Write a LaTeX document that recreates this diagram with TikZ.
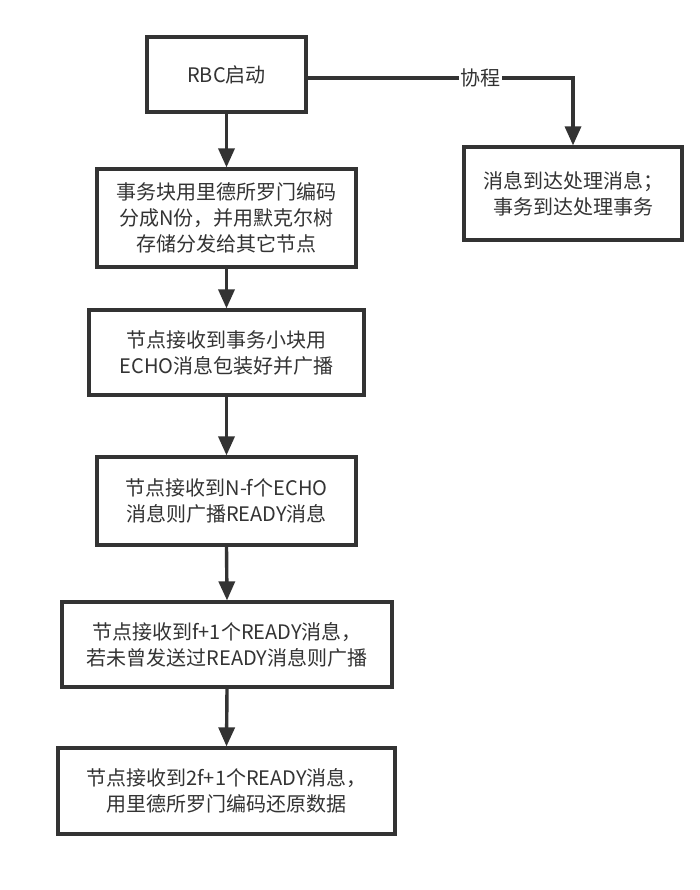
\documentclass[tikz,border=0pt]{standalone}
\usepackage{fontspec}
\setmainfont{Noto Sans CJK SC}
\usetikzlibrary{arrows.meta}
\definecolor{ink}{HTML}{333333}
\begin{document}
\begin{tikzpicture}[x=1pt,y=-1pt,
  box/.style={draw=ink,line width=3.2pt,fill=white,text=ink,align=center,inner sep=0pt,
    font=\fontsize{20}{26}\selectfont},
  conn/.style={draw=ink,line width=3.4pt,-{Triangle[length=19pt,width=16pt]}},
  lbl/.style={fill=white,text=ink,inner sep=1.5pt,font=\fontsize{20}{26}\selectfont}]
\useasboundingbox[fill=white] (0,0) rectangle (700,890);
\node[box,minimum width=159pt,minimum height=75pt] (n1) at (226.5,74.5) {RBC启动};
\node[box,minimum width=259pt,minimum height=98pt] (n2) at (226.5,218) {事务块用里德所罗门编码\\分成N份，并用默克尔树\\存储分发给其它节点};
\node[box,minimum width=275pt,minimum height=85pt] (n3) at (226.5,352.5) {节点接收到事务小块用\\ECHO消息包装好并广播};
\node[box,minimum width=259pt,minimum height=88pt] (n4) at (226.5,501) {节点接收到N-f个ECHO\\消息则广播READY消息};
\node[box,minimum width=330pt,minimum height=85pt] (n5) at (227,644.5) {节点接收到f+1个READY消息，\\若未曾发送过READY消息则广播};
\node[box,minimum width=337pt,minimum height=86pt] (n6) at (226.5,791) {节点接收到2f+1个READY消息，\\用里德所罗门编码还原数据};
\node[box,minimum width=218pt,minimum height=93pt] (r1) at (573,193.5) {消息到达处理消息；\\事务到达处理事务};
\draw[conn] (n1.south) -- (n2.north);
\draw[conn] (n2.south) -- (n3.north);
\draw[conn] (n3.south) -- (n4.north);
\draw[conn] (n4.south) -- (n5.north);
\draw[conn] (n5.south) -- (n6.north);
\draw[conn] ([yshift=-3.5pt]n1.east) -| node[lbl,pos=0.325] {协程} (r1.north);
\end{tikzpicture}
\end{document}
